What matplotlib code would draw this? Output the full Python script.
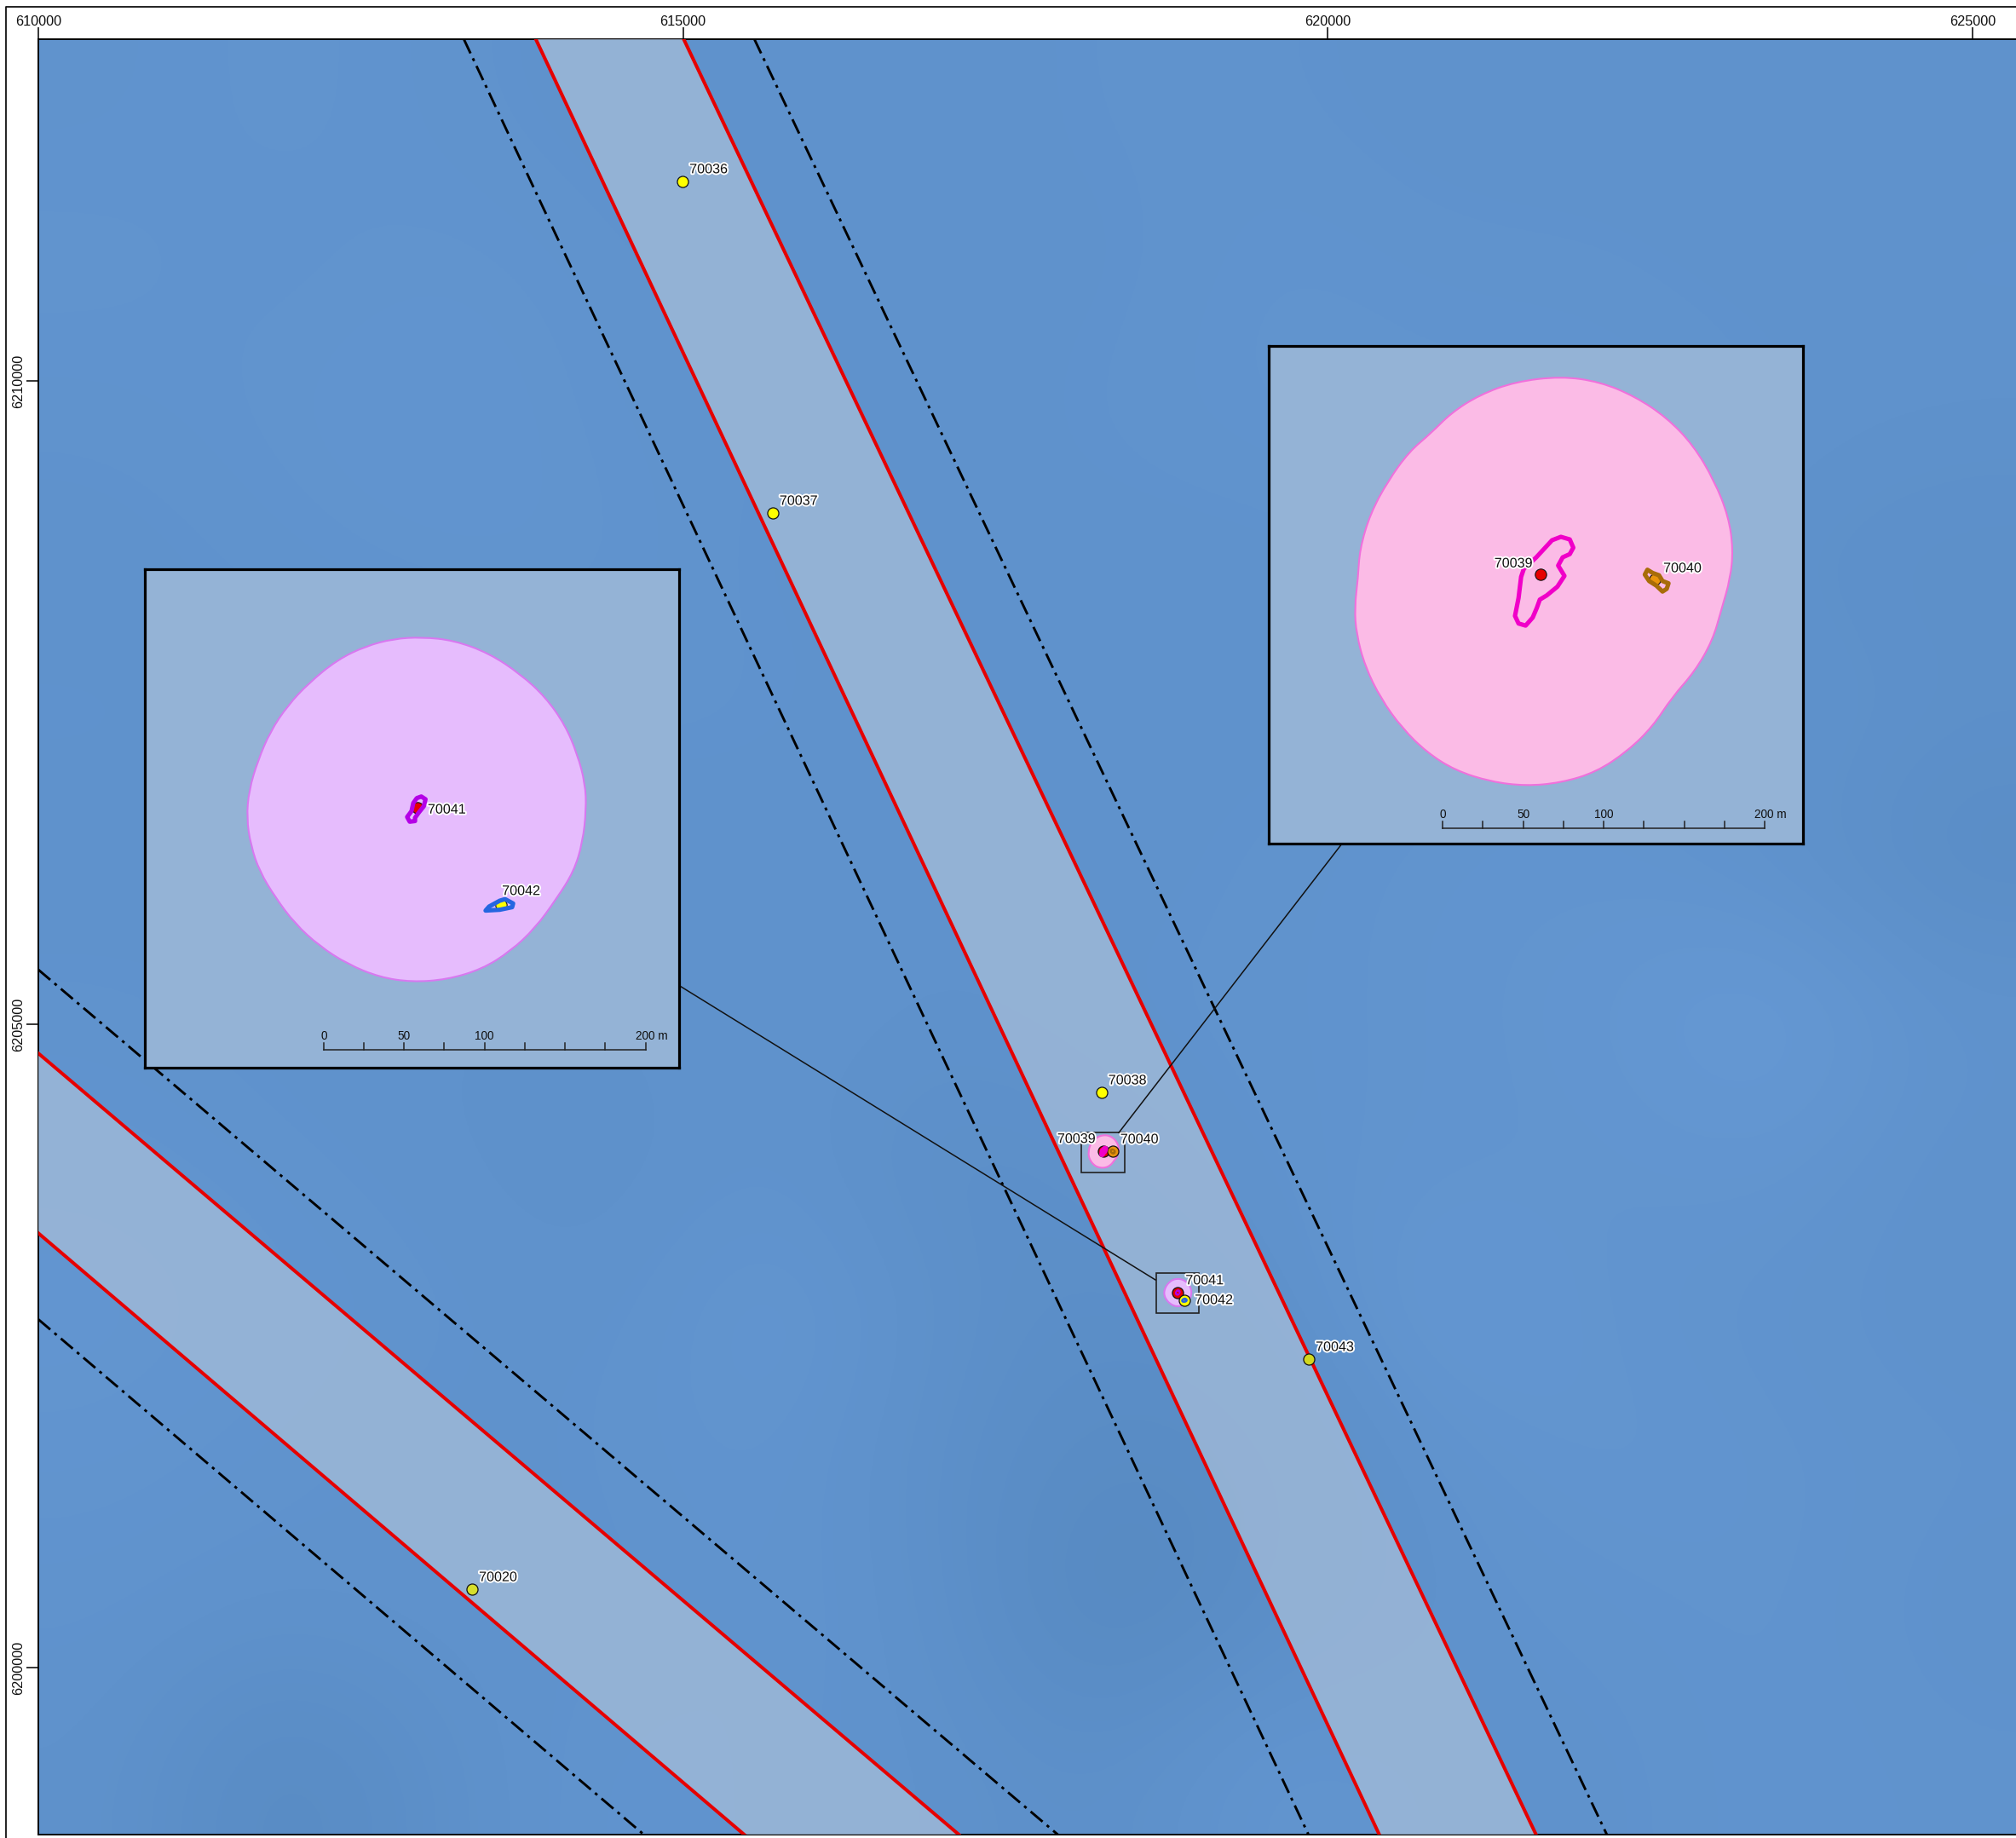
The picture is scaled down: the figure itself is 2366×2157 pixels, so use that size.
import numpy as np
import matplotlib
matplotlib.use("Agg")
import matplotlib.pyplot as plt
import matplotlib.patheffects as pe
from matplotlib.colors import LinearSegmentedColormap
from matplotlib.lines import Line2D
from matplotlib.patches import PathPatch, Polygon, Rectangle
from matplotlib.path import Path

plt.rcParams['font.family'] = ['Liberation Sans', 'DejaVu Sans']

W, H = 2366, 2157

# Map extent (UTM metres)
x_min, x_max = 610000, 625337
y_min, y_max = 6198702, 6212658
x_ticks = [610000, 615000, 620000, 625000]
y_ticks = [6200000, 6205000, 6210000]

# Bathymetry shade, 0 dark .. 1 light, top row first
bathy = [
    [.55, .60, .55, .50, .50, .50, .55, .55, .50, .50, .50, .50],
    [.60, .55, .60, .55, .50, .55, .50, .60, .55, .55, .50, .55],
    [.55, .60, .65, .55, .55, .50, .55, .60, .60, .60, .55, .50],
    [.50, .55, .60, .60, .50, .55, .50, .50, .55, .60, .45, .40],
    [.55, .50, .50, .55, .55, .50, .55, .50, .55, .60, .55, .45],
    [.50, .55, .55, .50, .50, .50, .50, .55, .60, .60, .50, .30],
    [.55, .50, .50, .50, .55, .50, .55, .55, .60, .65, .85, .55],
    [.60, .55, .50, .45, .55, .35, .45, .55, .60, .60, .65, .50],
    [.65, .60, .55, .50, .70, .45, .35, .45, .75, .60, .55, .50],
    [.60, .55, .50, .55, .60, .40, .25, .30, .55, .65, .60, .55],
    [.55, .50, .55, .50, .60, .45, .10, .35, .50, .55, .60, .50],
    [.50, .20, .45, .60, .55, .50, .40, .65, .55, .50, .60, .55],
]

# Corridor running north-west to south-east
main_red_left_x = [613858, 620399]
main_red_right_x = [615005, 621615]
main_dash_left_x = [613300, 619850]
main_dash_right_x = [615553, 622164]
main_y = [y_max, y_min]

# Corridor in the south-west corner: [left edge y, bottom edge x]
sw_red_upper = [6204775, 617139]
sw_red_lower = [6203377, 615474]
sw_dash_upper = [6205425, 617906]
sw_dash_lower = [6202707, 614696]

# Wells
well_ids = ["70036", "70037", "70038", "70039", "70040", "70041", "70042", "70043", "70020"]
well_x = [614997, 615695, 618245, 618260, 618331, 618837, 618889, 619853, 613364]
well_y = [6211553, 6208975, 6204471, 6204016, 6204013, 6202916, 6202856, 6202398, 6200609]
well_colors = ["#FFFF00", "#FFFF00", "#FFFF00", "#E60000", "#E8930C", "#E60000", "#FFFF00", "#D2D81E", "#D6DE2C"]

# Safety zone around 70039/70040, metres from 70039
zone_a_x = [12.7, 36.8, 58.7, 78.4, 94.9, 108.0, 116.8, 119.6, 117.9, 112.4, 106.9, 95.9, 81.7, 69.7, 54.3, 34.6, 12.7, -9.2,
            -31.1, -53.0, -70.5, -85.9, -99.0, -108.9, -114.3, -115.4, -113.3, -112.2, -105.6, -94.6, -81.5, -68.3, -55.2, -37.7, -15.8]
zone_a_y = [122.9, 119.5, 110.4, 97.3, 80.2, 58.1, 35.9, 15.7, -2.4, -21.5, -40.7, -59.9, -76.0, -94.1, -109.2, -122.4, -129.0, -131.0,
            -128.3, -121.3, -110.2, -95.1, -77.0, -56.9, -36.7, -20.5, -2.4, 15.7, 37.9, 58.1, 76.2, 87.3, 100.4, 111.4, 119.5]

# Structure outlines, metres from 70039
ring_39_x = [12.7, 18.2, 20.4, 18.2, 13.8, 11.0, 14.9, 10.5, 3.9, -0.4, -2.2, -4.8, -9.2, -13.6, -15.8, -13.6, -12.0, -10.3, -2.6, 7.2]
ring_39_y = [23.4, 21.8, 16.7, 12.7, 10.7, 5.6, -0.8, -7.5, -12.9, -15.5, -20.5, -26.6, -31.6, -30.3, -25.6, -14.5, -1.4, 3.6, 10.7, 21.3]
ring_40_x = [66.4, 69.7, 73.6, 75.8, 79.5, 78.4, 75.8, 71.9, 67.5, 64.8]
ring_40_y = [3.0, 1.0, -0.4, -4.0, -5.4, -8.8, -10.5, -6.8, -4.0, 0.0]

# Safety zone around 70041/70042, metres from 70041
zone_b_x = [2.9, 22.6, 44.5, 64.3, 79.6, 91.7, 99.3, 104.2, 104.8, 102.6, 97.1, 86.2, 73.0, 57.7, 40.1, 18.2, -3.7,
            -23.5, -43.2, -60.7, -76.1, -88.2, -98.0, -103.5, -106.1, -104.6, -99.1, -91.4, -80.5, -67.3, -49.8, -32.2, -14.7]
zone_b_y = [105.9, 103.9, 95.9, 82.7, 68.6, 51.4, 33.3, 15.1, -1.0, -21.2, -39.4, -56.5, -74.6, -88.8, -99.9, -106.4, -107.9,
            -104.9, -96.9, -85.7, -71.7, -55.5, -39.4, -23.2, -6.1, 11.1, 29.3, 47.4, 63.6, 77.6, 91.8, 100.3, 104.9]
ring_41_x = [2.4, 5.0, 3.9, 0.7, -1.5, -1.5, -4.8, -6.4, -3.7, -2.6, -0.4]
ring_41_y = [7.1, 5.4, 1.0, -3.0, -6.1, -8.1, -8.5, -5.6, -2.0, 3.0, 6.1]
ring_42_x = [54.4, 59.4, 58.8, 51.1, 42.3, 44.5, 51.1]
ring_42_y = [-56.5, -59.2, -61.5, -63.1, -63.6, -61.1, -57.5]

# Inset windows, metres from the anchor well
inset_a_xlim = [-168.7, 163.0]
inset_a_ylim = [-166.7, 141.7]
inset_b_xlim = [-169.3, 162.5]
inset_b_ylim = [-161.0, 148.0]

# Scale bars
scale_ticks = [0, 25, 50, 75, 100, 125, 150, 175, 200]
scale_label_pos = [0, 50, 100, 200]
scale_labels = ["0", "50", "100", "200 m"]

# Leader lines, from inset to locator box
leader_a_x = [620110, 618379]
leader_a_y = [6206405, 6204158]
leader_b_x = [614963, 618663]
leader_b_y = [6205306, 6203014]

BAND = "#94B3D6"
HALO = [pe.withStroke(linewidth=2.8, foreground="white")]
PX = 0.72  # one pixel in points at dpi 100


def px_rect(left, top, right, bottom):
    return [left / W, 1 - bottom / H, (right - left) / W, (bottom - top) / H]


def well_label(ax, text, x, y, dx, dy, ha="left", size=11.6):
    ax.annotate(text, (x, y), xytext=(dx * PX, dy * PX), textcoords="offset points", ha=ha, va="center",
                fontsize=size, color="#111111", path_effects=HALO, zorder=12)


def draw_zone(ax, ox, oy, zx, zy, face, edge, lw):
    # Read points act as curve controls so the outline stays round
    pts = np.c_[np.array(zx) + ox, np.array(zy) + oy]
    mids = (pts + np.roll(pts, -1, axis=0)) / 2
    verts = [mids[-1]]
    codes = [Path.MOVETO]
    for i in range(len(pts)):
        verts += [pts[i], mids[i]]
        codes += [Path.CURVE3, Path.CURVE3]
    ax.add_patch(PathPatch(Path(verts, codes), facecolor=face, edgecolor=edge, linewidth=lw, zorder=5))


def draw_ring(ax, ox, oy, rx, ry, color):
    ax.add_patch(Polygon(np.c_[np.array(rx) + ox, np.array(ry) + oy], closed=True, fill=False,
                         edgecolor=color, linewidth=3.7, joinstyle="round", zorder=8))


def draw_scalebar(ax, x0, y0, tick_h, label_y):
    ax.plot([x0, x0 + 200], [y0, y0], color="#222222", lw=1.1, zorder=9)
    for t in scale_ticks:
        ax.plot([x0 + t, x0 + t], [y0, y0 + tick_h], color="#222222", lw=1.1, zorder=9)
    for pos, lab in zip(scale_label_pos, scale_labels):
        # the "200 m" label is centred on its number, not on the whole text
        ax.text(x0 + pos + (3.7 if lab == "200 m" else 0), label_y, lab, ha="center", va="center",
                fontsize=9.8, color="#111111", zorder=9)


# Creating the figure
fig = plt.figure(figsize=(W / 100, H / 100), dpi=100, facecolor="white")
ax = fig.add_axes(px_rect(45, 46, W, 2153))

# Background
cmap = LinearSegmentedColormap.from_list("bathy", ["#5285BC", "#6C9FDC"])
ax.imshow(bathy, extent=[x_min, x_max, y_min, y_max], origin="upper", cmap=cmap, vmin=0, vmax=1,
          interpolation="bicubic", aspect="auto", zorder=0)

# Corridors
ax.add_patch(Polygon(np.c_[main_red_left_x + main_red_right_x[::-1], main_y + main_y[::-1]], closed=True,
                     facecolor="#A5BDD9", alpha=0.75, edgecolor="none", zorder=3))
ax.add_patch(Polygon([(x_min, sw_red_upper[0]), (sw_red_upper[1], y_min), (sw_red_lower[1], y_min), (x_min, sw_red_lower[0])],
                     closed=True, facecolor="#A5BDD9", alpha=0.75, edgecolor="none", zorder=3))

dash = (0, (6.3, 2.2, 1.2, 2.2))
ax.plot(main_red_left_x, main_y, color="#E60000", lw=2.9, zorder=4)
ax.plot(main_red_right_x, main_y, color="#E60000", lw=2.9, zorder=4)
ax.plot(main_dash_left_x, main_y, color="black", lw=2.1, ls=dash, zorder=4)
ax.plot(main_dash_right_x, main_y, color="black", lw=2.1, ls=dash, zorder=4)
for line, style in [(sw_red_upper, "red"), (sw_red_lower, "red"), (sw_dash_upper, "dash"), (sw_dash_lower, "dash")]:
    if style == "red":
        ax.plot([x_min, line[1]], [line[0], y_min], color="#E60000", lw=2.9, zorder=4)
    else:
        ax.plot([x_min, line[1]], [line[0], y_min], color="black", lw=2.1, ls=dash, zorder=4)

# Safety zones and structures on the main map
xa, ya = well_x[3], well_y[3]
xb, yb = well_x[5], well_y[5]
draw_zone(ax, xa, ya, zone_a_x, zone_a_y, "#FBBBE6", "#F070DC", 1.5)
draw_zone(ax, xb, yb, zone_b_x, zone_b_y, "#E6BCFD", "#D878F0", 1.5)

# Wells
for i in range(len(well_ids)):
    ax.plot(well_x[i], well_y[i], "o", ms=9.4, mfc=well_colors[i], mec="#111111", mew=0.9, zorder=7)
draw_ring(ax, xa, ya, ring_39_x, ring_39_y, "#F000C8")
draw_ring(ax, xa, ya, ring_40_x, ring_40_y, "#A86C08")
draw_ring(ax, xb, yb, ring_41_x, ring_41_y, "#B400E6")
draw_ring(ax, xb, yb, ring_42_x, ring_42_y, "#2566E0")

# Locator boxes
ax.add_patch(Rectangle((xa + inset_a_xlim[0], ya + inset_a_ylim[0]), inset_a_xlim[1] - inset_a_xlim[0],
                       inset_a_ylim[1] - inset_a_ylim[0], fill=False, edgecolor="#222222", lw=1.2, zorder=9))
ax.add_patch(Rectangle((xb + inset_b_xlim[0], yb + inset_b_ylim[0]), inset_b_xlim[1] - inset_b_xlim[0],
                       inset_b_ylim[1] - inset_b_ylim[0], fill=False, edgecolor="#222222", lw=1.2, zorder=9))
ax.plot(leader_a_x, leader_a_y, color="#111111", lw=1.1, zorder=9)
ax.plot(leader_b_x, leader_b_y, color="#111111", lw=1.1, zorder=9)

# Labels on the main map
for i in [0, 1, 2, 7, 8]:
    well_label(ax, well_ids[i], well_x[i], well_y[i], 8, 14)
well_label(ax, well_ids[3], well_x[3], well_y[3], -9, 14, ha="right")
well_label(ax, well_ids[4], well_x[4], well_y[4], 9, 14)
well_label(ax, well_ids[5], well_x[5], well_y[5], 9, 14)
well_label(ax, well_ids[6], well_x[6], well_y[6], 12, 0)

# Customizing axis
ax.set_xlim(x_min, x_max)
ax.set_ylim(y_min, y_max)
ax.xaxis.tick_top()
ax.set_xticks(x_ticks)
ax.set_xticklabels([str(t) for t in x_ticks])
ax.set_yticks(y_ticks)
ax.set_yticklabels([str(t) for t in y_ticks], rotation=90, va="center")
ax.tick_params(axis="both", length=10, width=1.1, labelsize=11.7, labelcolor="#111111")
ax.tick_params(axis="x", pad=-0.5)
ax.tick_params(axis="y", pad=1.5)
for side in ["top", "left", "bottom"]:
    ax.spines[side].set_linewidth(1.4)
ax.spines["right"].set_visible(False)

# Outer frame, cut by the image edge
fig.add_artist(Line2D([6.5 / W, 6.5 / W, 1], [0, 1 - 7.5 / H, 1 - 7.5 / H], color="#111111", lw=1.3))

# Inset around 70039/70040
ia = fig.add_axes(px_rect(1489, 406, 2116, 990), facecolor=BAND, zorder=5)
draw_zone(ia, 0, 0, zone_a_x, zone_a_y, "#FBBBE6", "#F070DC", 1.5)
ia.plot(0, 0, "o", ms=9.6, mfc=well_colors[3], mec="#111111", mew=0.8, zorder=7)
m = ia.plot(well_x[4] - xa, well_y[4] - ya, "o", ms=9.6, mfc=well_colors[4], mec="#111111", mew=0.8, zorder=7)
m[0].set_clip_path(Path(np.c_[ring_40_x, ring_40_y]), ia.transData)
draw_ring(ia, 0, 0, ring_39_x, ring_39_y, "#F000C8")
draw_ring(ia, 0, 0, ring_40_x, ring_40_y, "#A86C08")
well_label(ia, well_ids[3], 0, 0, -9, 13, ha="right")
well_label(ia, well_ids[4], well_x[4] - xa, well_y[4] - ya, 10, 13)
draw_scalebar(ia, -60.7, -157.3, 4.3, -148.5)
ia.set_xlim(inset_a_xlim)
ia.set_ylim(inset_a_ylim)

# Inset around 70041/70042
ib = fig.add_axes(px_rect(170, 668, 797, 1253), facecolor=BAND, zorder=5)
draw_zone(ib, 0, 0, zone_b_x, zone_b_y, "#E6BCFD", "#D878F0", 1.5)
m = ib.plot(0, 0, "o", ms=9.6, mfc=well_colors[5], mec="#111111", mew=0.8, zorder=7)
m[0].set_clip_path(Path(np.c_[ring_41_x, ring_41_y]), ib.transData)
m = ib.plot(well_x[6] - xb, well_y[6] - yb, "o", ms=9.6, mfc=well_colors[6], mec="#111111", mew=0.8, zorder=7)
m[0].set_clip_path(Path(np.c_[ring_42_x, ring_42_y]), ib.transData)
draw_ring(ib, 0, 0, ring_41_x, ring_41_y, "#B400E6")
draw_ring(ib, 0, 0, ring_42_x, ring_42_y, "#2566E0")
well_label(ib, well_ids[5], 0, 0, 12, -2)
well_label(ib, well_ids[6], well_x[6] - xb, well_y[6] - yb, 1, 16)
draw_scalebar(ib, -58.3, -150.0, 4.3, -141.2)
ib.set_xlim(inset_b_xlim)
ib.set_ylim(inset_b_ylim)

for inset in [ia, ib]:
    inset.set_xticks([])
    inset.set_yticks([])
    for spine in inset.spines.values():
        spine.set_linewidth(2.3)

# Saving the chart
fig.savefig("out.png", dpi=100)
plt.close(fig)
